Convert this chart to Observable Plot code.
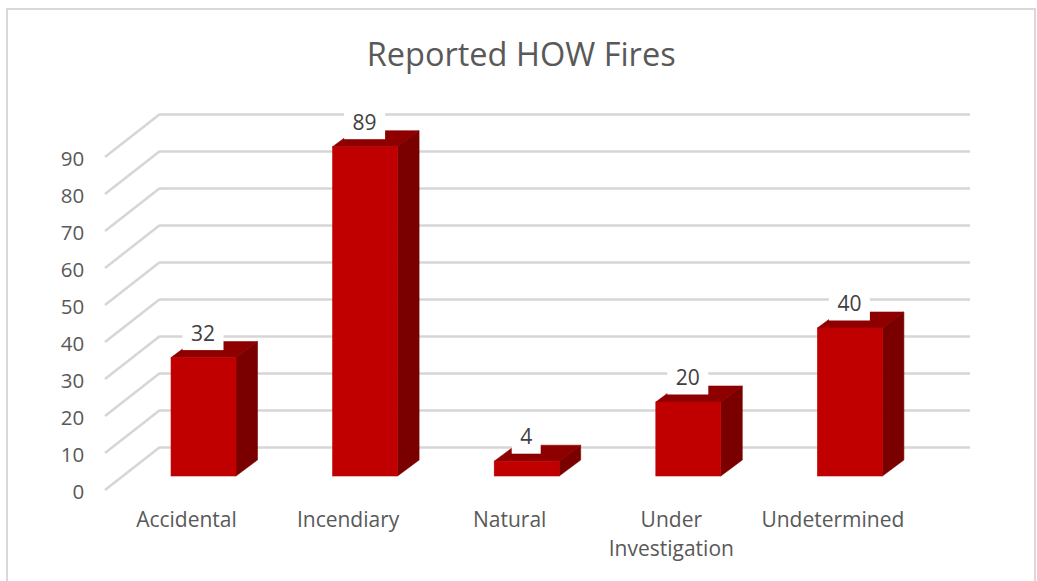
<!DOCTYPE html>
<html>
<head>
<meta charset="utf-8">
<script src="https://cdn.jsdelivr.net/npm/d3@7"></script>
<script src="https://cdn.jsdelivr.net/npm/@observablehq/plot@0.6"></script>
<style>
  html, body { margin: 0; padding: 0; background: #fff; overflow: hidden; }
  #frame { position: absolute; left: 6px; top: 8px; width: 1030px; height: 600px; border: 2px solid #d9d9d9; box-sizing: border-box; }
  #chart { position: absolute; left: 0; top: 0; }
</style>
</head>
<body>
<div id="frame"></div>
<div id="chart"></div>
<script>
const categories = ["Accidental", "Incendiary", "Natural", "Under Investigation", "Undetermined"];
const counts = [32, 89, 4, 20, 40];
const yTicks = [0, 10, 20, 30, 40, 50, 60, 70, 80, 90];
const titleText = "Reported HOW Fires";
const tickLabels = new Map([["Under Investigation", "Under\nInvestigation"]]);

const bars = categories.map((category, i) => ({category, count: counts[i]}));

const W = 1037, H = 581;
const FONT = "'Open Sans', 'Noto Sans', sans-serif";
// oblique projection of the 3-D box
const barDepth = [21.5, -16];       // bar front to bar back
const wallShift = [0, -29];         // bar front plane to back wall (vertical)
const floorFront = [-18, 14];       // bar front plane to floor front edge
const wallLeftInset = 37.3, wallRightOver = 39.3;

const SVGNS = "http://www.w3.org/2000/svg";
function poly(points, fill) {
  const p = document.createElementNS(SVGNS, "polygon");
  p.setAttribute("points", points.map(q => q.join(",")).join(" "));
  p.setAttribute("fill", fill);
  p.setAttribute("stroke", fill);
  p.setAttribute("stroke-width", 0.6);
  p.setAttribute("stroke-linejoin", "round");
  return p;
}
function group() { return document.createElementNS(SVGNS, "g"); }

// slanted side-wall grid lines
function sideGrid(index, {x, y}) {
  const g = group();
  const xWall = x.range()[0] + wallLeftInset;
  for (const t of yTicks) {
    const l = document.createElementNS(SVGNS, "line");
    l.setAttribute("x1", xWall);
    l.setAttribute("y1", y(t) + wallShift[1]);
    l.setAttribute("x2", xWall - 55);
    l.setAttribute("y2", y(t) + floorFront[1]);
    l.setAttribute("stroke", "#d6d6d6");
    l.setAttribute("stroke-width", 2.5);
    g.appendChild(l);
  }
  return g;
}

// top and side faces of each bar
function barFaces(index, {x, y}) {
  const g = group();
  const bw = x.bandwidth();
  const [dx, dy] = barDepth;
  for (const d of bars) {
    const x0 = x(d.category), x1 = x0 + bw, yt = y(d.count), yb = y(0);
    g.appendChild(poly([[x0, yt], [x1, yt], [x1 + dx, yt + dy], [x0 + dx, yt + dy]], "#8e0000"));
    g.appendChild(poly([[x1, yt], [x1 + dx, yt + dy], [x1 + dx, yb + dy], [x1, yb]], "#7a0000"));
  }
  return g;
}

// white plates behind the data labels
function labelPlates(index, {x, y}) {
  const g = group();
  for (const d of bars) {
    const w = String(d.count).length > 1 ? 41 : 29;
    const cx = x(d.category) + x.bandwidth() / 2 - 0.5;
    const r = document.createElementNS(SVGNS, "rect");
    r.setAttribute("x", cx - w / 2);
    r.setAttribute("y", y(d.count) - 7.5 - 30);
    r.setAttribute("width", w);
    r.setAttribute("height", 30);
    r.setAttribute("fill", "#fff");
    g.appendChild(r);
  }
  return g;
}

const chart = Plot.plot({
  width: W,
  height: H,
  marginLeft: 122.7,
  marginRight: W - 930.7,
  marginTop: 143,
  marginBottom: H - 476,
  style: {background: "transparent", fontFamily: FONT},
  x: {type: "band", domain: categories, paddingInner: 0.598, paddingOuter: 0.299, round: false, label: null},
  y: {domain: [0, 90], ticks: yTicks, label: null},
  marks: [
    Plot.ruleY(yTicks, {
      stroke: "#d6d6d6", strokeWidth: 2.5, dy: wallShift[1],
      insetLeft: wallLeftInset, insetRight: -wallRightOver
    }),
    sideGrid,
    Plot.axisY({
      ticks: yTicks, tickSize: 0, tickPadding: 0, label: null, anchor: "left",
      dx: -39, dy: 15.5, fontSize: 20.5, fill: "#595959", stroke: null, textAnchor: "end"
    }),
    Plot.axisX({
      tickSize: 0, label: null, anchor: "bottom", tickPadding: 0,
      tickFormat: d => tickLabels.get(d) ?? d,
      dx: -17.5, dy: 30.5, fontSize: 21, fill: "#595959", lineHeight: 1.37, lineAnchor: "top"
    }),
    barFaces,
    Plot.barY(bars, {x: "category", y: "count", fill: "#c00000", stroke: "#c00000", strokeWidth: 0.6}),
    labelPlates,
    Plot.text(bars, {
      x: "category", y: "count", text: d => String(d.count),
      dx: -1, dy: -24, fontSize: 21, fill: "#404040", fontFamily: FONT
    }),
    Plot.text([titleText], {
      frameAnchor: "top", dx: -6, dy: -88, fontSize: 32.5, fill: "#595959", fontFamily: FONT,
      lineAnchor: "middle"
    })
  ]
});
document.getElementById("chart").appendChild(chart);
</script>
</body>
</html>
